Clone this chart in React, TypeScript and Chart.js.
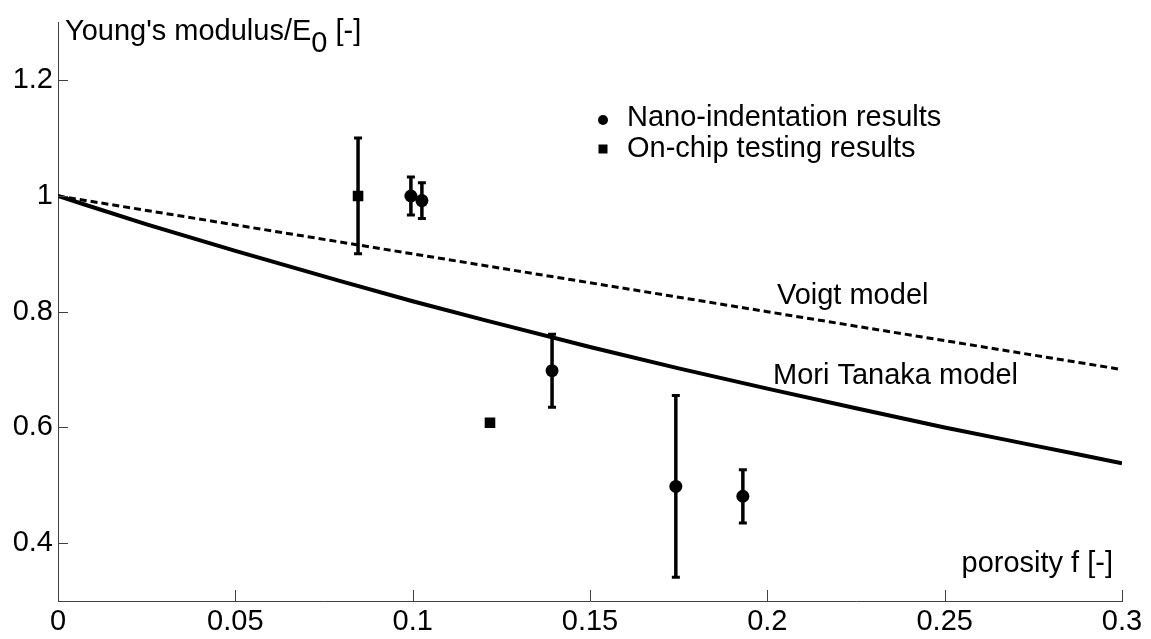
import React, { useEffect, useRef } from "react";
import { Chart, registerables } from "chart.js";
Chart.register(...registerables);

const xTicks = [0, 0.05, 0.1, 0.15, 0.2, 0.25, 0.3];
const xTickLabels = ["0", "0.05", "0.1", "0.15", "0.2", "0.25", "0.3"];
const yTicks = [0.4, 0.6, 0.8, 1, 1.2];
const yTickLabels = ["0.4", "0.6", "0.8", "1", "1.2"];

// Mori Tanaka model curve
const moriX = [0, 0.025, 0.05, 0.075, 0.1, 0.125, 0.15, 0.175, 0.2, 0.225, 0.25, 0.275, 0.3];
const moriY = [1, 0.951, 0.905, 0.861, 0.818, 0.778, 0.739, 0.702, 0.667, 0.633, 0.6, 0.569, 0.538];
// Voigt model line
const voigtX = [0, 0.1, 0.2, 0.3];
const voigtY = [1, 0.9, 0.8, 0.7];

// Nano-indentation results
const nanoX = [0.0995, 0.1026, 0.1393, 0.1742, 0.1931];
const nanoY = [1.0, 0.992, 0.698, 0.498, 0.481];
const nanoErr = [0.033, 0.031, 0.063, 0.157, 0.046];
// On-chip testing results
const chipX = [0.0846, 0.1218];
const chipY = [1.0, 0.608];
const chipErr = [0.1, 0];

const modelLabels = ["Voigt model", "Mori Tanaka model"];
const modelLabelX = [0.2027, 0.2016];
const modelLabelY = [0.8127, 0.6757];

const legendLabels = ["Nano-indentation results", "On-chip testing results"];

const FONT = "'Liberation Sans', Arial, sans-serif";
const FS = 29;

export default function App() {
  const ref = useRef<HTMLCanvasElement | null>(null);
  useEffect(() => {
    if (!ref.current) return;
    const customPlugin = {
      id: "custom",
      beforeDatasetsDraw(chart: any) {
        const ctx = chart.ctx;
        const xs = chart.scales.x;
        const ys = chart.scales.y;
        ctx.save();
        ctx.strokeStyle = "#000";
        const drawBars = (X: number[], Y: number[], E: number[]) => {
          X.forEach((xv, i) => {
            if (!E[i]) return;
            const px = xs.getPixelForValue(xv);
            const p1 = ys.getPixelForValue(Y[i] + E[i]);
            const p2 = ys.getPixelForValue(Y[i] - E[i]);
            ctx.lineWidth = 3.5;
            ctx.beginPath();
            ctx.moveTo(px, p1);
            ctx.lineTo(px, p2);
            ctx.stroke();
            ctx.lineWidth = 3;
            ctx.beginPath();
            ctx.moveTo(px - 4, p1);
            ctx.lineTo(px + 4, p1);
            ctx.moveTo(px - 4, p2);
            ctx.lineTo(px + 4, p2);
            ctx.stroke();
          });
        };
        drawBars(nanoX, nanoY, nanoErr);
        drawBars(chipX, chipY, chipErr);
        ctx.restore();
      },
      afterDraw(chart: any) {
        const ctx = chart.ctx;
        const xs = chart.scales.x;
        const ys = chart.scales.y;
        const a = chart.chartArea;
        ctx.save();
        // inward ticks
        ctx.strokeStyle = "#404040";
        ctx.lineWidth = 1;
        ctx.beginPath();
        xTicks.forEach((v) => {
          const px = Math.round(xs.getPixelForValue(v)) + 0.5;
          ctx.moveTo(px, a.bottom);
          ctx.lineTo(px, a.bottom - 11);
        });
        yTicks.forEach((v) => {
          const py = Math.round(ys.getPixelForValue(v)) + 0.5;
          ctx.moveTo(a.left, py);
          ctx.lineTo(a.left + 10, py);
        });
        ctx.stroke();

        ctx.fillStyle = "#000";
        ctx.font = `${FS}px ${FONT}`;
        ctx.textBaseline = "alphabetic";
        // y axis title
        let tx = a.left + 7;
        const ty = 40;
        ctx.textAlign = "left";
        const t1 = "Young's modulus/E";
        ctx.fillText(t1, tx, ty);
        tx += ctx.measureText(t1).width;
        ctx.fillText("0", tx, ty + 12);
        tx += ctx.measureText("0").width;
        ctx.fillText(" [-]", tx, ty);
        // x axis title
        ctx.textAlign = "right";
        ctx.fillText("porosity f [-]", a.right - 9, 572);
        // model labels
        ctx.textAlign = "left";
        modelLabels.forEach((t, i) => {
          ctx.fillText(t, xs.getPixelForValue(modelLabelX[i]), ys.getPixelForValue(modelLabelY[i]));
        });
        // legend
        const lx = 603;
        const rows = [126, 157];
        ctx.beginPath();
        ctx.arc(lx, rows[0] - 6, 5, 0, Math.PI * 2);
        ctx.fill();
        ctx.fillRect(lx - 4.5, rows[1] - 12.5, 9, 9);
        legendLabels.forEach((t, i) => {
          ctx.fillText(t, 627, rows[i]);
        });
        ctx.restore();
      },
    };

    const chart = new Chart(ref.current, {
      type: "scatter",
      data: {
        datasets: [
          {
            label: "Voigt model",
            data: voigtX.map((x, i) => ({ x, y: voigtY[i] })),
            showLine: true,
            borderColor: "#000",
            borderWidth: 3,
            borderDash: [7, 4],
            pointRadius: 0,
            fill: false,
          },
          {
            label: "Mori Tanaka model",
            data: moriX.map((x, i) => ({ x, y: moriY[i] })),
            showLine: true,
            borderColor: "#000",
            borderWidth: 4,
            pointRadius: 0,
            cubicInterpolationMode: "monotone",
            fill: false,
          },
          {
            label: "Nano-indentation results",
            data: nanoX.map((x, i) => ({ x, y: nanoY[i] })),
            pointStyle: "circle",
            pointRadius: 6.5,
            backgroundColor: "#000",
            borderColor: "#000",
            borderWidth: 0,
          },
          {
            label: "On-chip testing results",
            data: chipX.map((x, i) => ({ x, y: chipY[i] })),
            pointStyle: "rect",
            pointRadius: 7.5,
            backgroundColor: "#000",
            borderColor: "#000",
            borderWidth: 0,
          },
        ],
      },
      options: {
        animation: false,
        responsive: true,
        maintainAspectRatio: false,
        layout: { padding: { top: 10, right: 29, left: 0, bottom: 0 } },
        plugins: { legend: { display: false }, tooltip: { enabled: false } },
        scales: {
          x: {
            type: "linear",
            min: 0,
            max: 0.3,
            afterBuildTicks: (s: any) => {
              s.ticks = xTicks.map((v) => ({ value: v }));
            },
            afterFit: (s: any) => {
              s.height = 38;
            },
            grid: { drawOnChartArea: false, drawTicks: false },
            border: { display: true, color: "#404040", width: 1 },
            ticks: {
              color: "#000",
              font: { family: FONT, size: FS },
              padding: 4,
              maxRotation: 0,
              autoSkip: false,
              callback: (_v: any, i: number) => xTickLabels[i],
            },
          },
          y: {
            type: "linear",
            min: 0.3,
            max: 1.3,
            afterBuildTicks: (s: any) => {
              s.ticks = yTicks.map((v) => ({ value: v }));
            },
            afterFit: (s: any) => {
              s.width = 58;
            },
            grid: { drawOnChartArea: false, drawTicks: false },
            border: { display: true, color: "#404040", width: 1 },
            ticks: {
              color: "#000",
              font: { family: FONT, size: FS },
              padding: 5,
              autoSkip: false,
              callback: (_v: any, i: number) => yTickLabels[i],
            },
          },
        },
      },
      plugins: [customPlugin],
    } as any);
    return () => chart.destroy();
  }, []);

  return (
    <div style={{ position: "absolute", left: 0, top: 0, width: 1151, height: 639, background: "#fff" }}>
      <canvas ref={ref} />
    </div>
  );
}
